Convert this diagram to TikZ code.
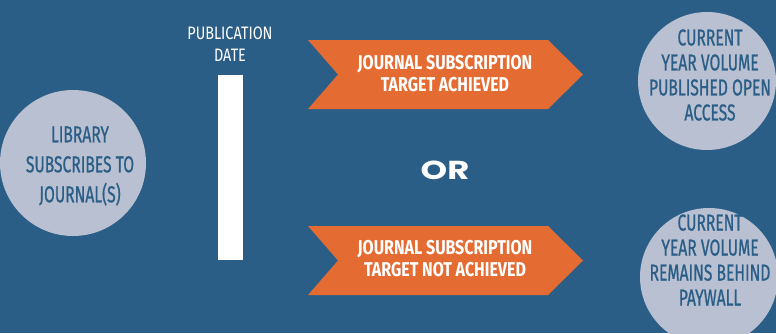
\documentclass[tikz,border=0pt]{standalone}
\usepackage{fontspec}
\setmainfont{Fira Sans}
\newfontfamily\condfont[FakeStretch=0.8]{Fira Sans}
\newfontfamily\narrowfont[FakeStretch=0.68,FakeBold=0.8]{Fira Sans}
\newfontfamily\orfont[FakeStretch=1.3]{Poppins}
\definecolor{bgblue}{RGB}{43,94,134}
\definecolor{circfill}{RGB}{184,192,210}
\definecolor{orng}{RGB}{228,108,50}
\tikzset{
  circtext/.style={align=center, text=bgblue, font=\narrowfont\fontsize{23}{25}\selectfont, inner sep=0pt},
  chevtext/.style={align=center, text=white, font=\condfont\bfseries\fontsize{20}{22}\selectfont, inner sep=0pt},
  chevshape/.style={fill=orng, draw=none},
  circshape/.style={fill=circfill, draw=none}
}
\begin{document}
\begin{tikzpicture}[x=1pt,y=-1pt]
\fill[bgblue] (0,0) rectangle (776,333);
\useasboundingbox (0,0) rectangle (776,333);
% left circle
\fill[circshape] (73,163) circle (73);
\node[circtext, font=\narrowfont\fontsize{23}{30}\selectfont] (lib) at (80,166) {LIBRARY\\SUBSCRIBES TO\\JOURNAL(S)};
% publication date bar
\fill[white] (218,75) rectangle (243,260);
\node[align=center, text=white, font=\condfont\fontsize{18}{22}\selectfont, inner sep=0pt] (pub) at (230,44) {PUBLICATION\\DATE};
% chevrons
\fill[chevshape] (308,40) -- (548,40) -- (583,74.5) -- (548,109) -- (308,109) -- (338,74.5) -- cycle;
\node[chevtext] (ach) at (445,73.5) {JOURNAL SUBSCRIPTION\\TARGET ACHIEVED};
\fill[chevshape] (308,226) -- (548,226) -- (583,260.5) -- (548,295) -- (308,295) -- (338,260.5) -- cycle;
\node[chevtext] (nach) at (445,259) {JOURNAL SUBSCRIPTION\\TARGET NOT ACHIEVED};
% OR
\node[text=white, font=\orfont\bfseries\fontsize{26}{26}\selectfont, inner sep=0pt] (or) at (445,170) {OR};
% right circles
\fill[circshape] (707,81) circle (69);
\node[circtext] (oa) at (710,75) {CURRENT\\YEAR VOLUME\\PUBLISHED OPEN\\ACCESS};
\fill[circshape] (709,277) circle (69);
\node[circtext] (pw) at (710,260) {CURRENT\\YEAR VOLUME\\REMAINS BEHIND\\PAYWALL};
\end{tikzpicture}
\end{document}
